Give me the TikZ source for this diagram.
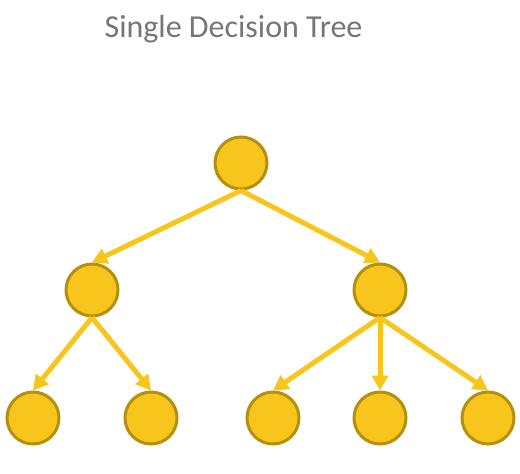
\documentclass[tikz,border=0pt]{standalone}
\usepackage{fontspec}
\setmainfont{Carlito}
\usetikzlibrary{arrows.meta}
\definecolor{leaffill}{RGB}{248,197,28}
\definecolor{leafedge}{RGB}{181,143,14}
\definecolor{titlegray}{RGB}{118,118,118}
\begin{document}
\begin{tikzpicture}[x=1pt, y=1pt,
    treenode/.style={draw=leafedge, fill=leaffill, circle, line width=3pt, minimum size=52pt, inner sep=0pt},
    branch/.style={color=leaffill, line width=5pt, -{Triangle[length=15pt, width=16pt]}}]
            \useasboundingbox (0,0) rectangle (520,-474);
            \node[font=\fontsize{32}{38}\selectfont, text=titlegray, anchor=base] (title) at (233.5,-37) {Single Decision Tree};
            \node[treenode] (r) at (241,-163) {};
            \node[treenode] (a) at (92,-290) {};
            \node[treenode] (b) at (380,-290) {};
            \node[treenode] (a1) at (33,-418) {};
            \node[treenode] (a2) at (151,-418) {};
            \node[treenode] (b1) at (273,-418) {};
            \node[treenode] (b2) at (380,-418) {};
            \node[treenode] (b3) at (488,-418) {};
            \draw[branch] (r.south) -- (a.north);
            \draw[branch] (r.south) -- (b.north);
            \draw[branch] (a.south) -- (a1.north);
            \draw[branch] (a.south) -- (a2.north);
            \draw[branch] (b.south) -- (b1.north);
            \draw[branch] (b.south) -- (b2.north);
            \draw[branch] (b.south) -- (b3.north);
        \end{tikzpicture}
\end{document}
